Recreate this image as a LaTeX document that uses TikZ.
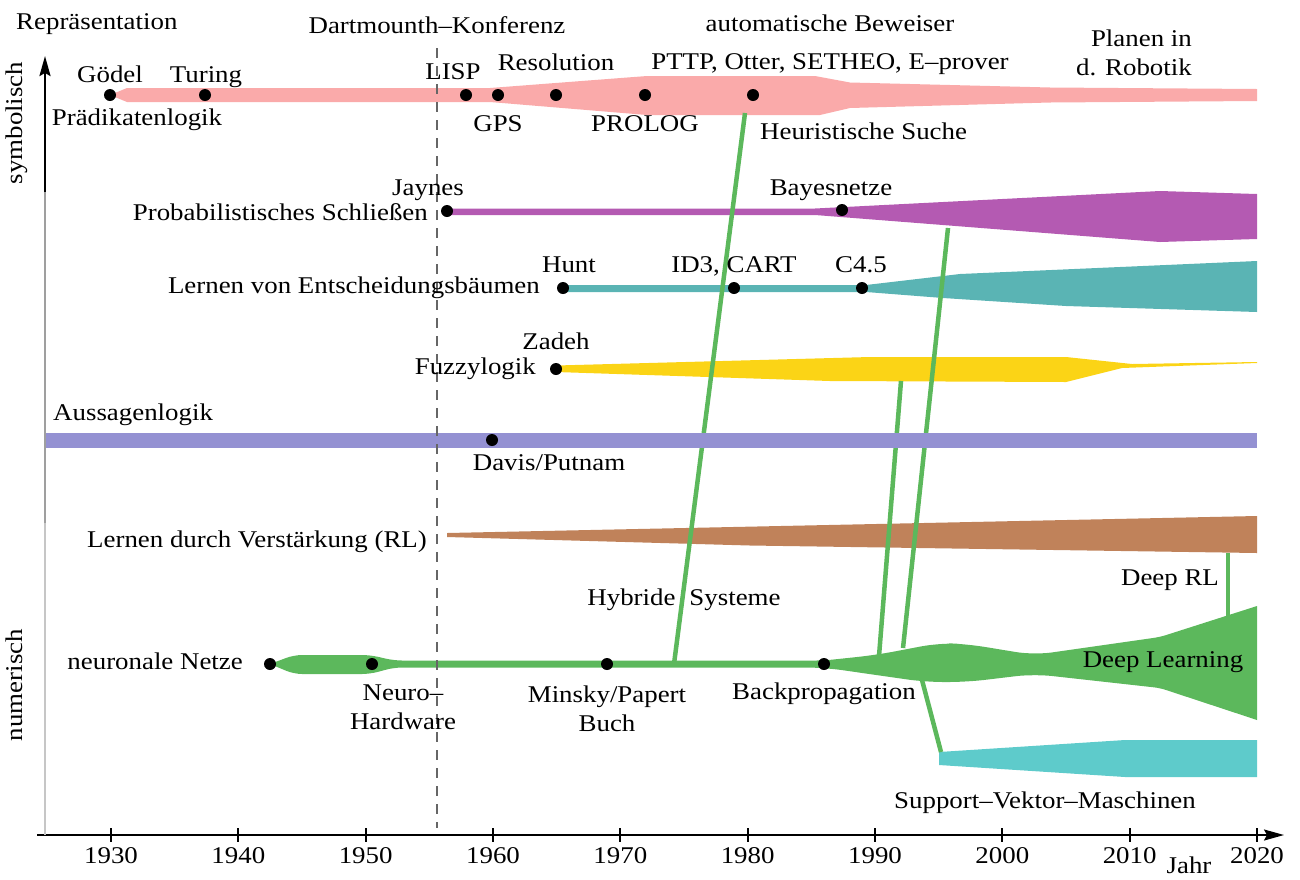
\documentclass[tikz,border=0pt]{standalone}
\usepackage{fontspec}
\setmainfont{Liberation Serif}[FakeStretch=1.12]
\usetikzlibrary{arrows.meta}
\definecolor{cpink}{RGB}{250,170,170}
\definecolor{cpurple}{RGB}{180,90,178}
\definecolor{cteal}{RGB}{90,180,180}
\definecolor{cyellow}{RGB}{251,212,22}
\definecolor{clav}{RGB}{148,145,210}
\definecolor{cbrown}{RGB}{192,130,90}
\definecolor{cgreen}{RGB}{92,184,92}
\definecolor{ccyan}{RGB}{94,203,203}
\newcommand\fsz{\fontsize{24}{29}\selectfont}
\begin{document}
\begin{tikzpicture}[x=1pt,y=-1pt,
  lbl/.style={inner sep=0pt, text height=0.7em, text depth=0.22em, font=\fsz, yshift=-3pt},
  yrlbl/.style={inner sep=0pt, text height=0.7em, text depth=0.22em, font=\fsz, yshift=-1pt},
  ml/.style={inner sep=0pt, font=\fsz, align=center, yshift=-1pt},
  dot/.style={circle, fill=black, inner sep=0pt, minimum size=12pt},
  link/.style={line width=4.5pt, draw=cgreen},
  axis/.style={line width=1.8pt},
  tip/.style={-{Stealth[length=20pt,width=11pt,inset=3pt]}}
]
\useasboundingbox (0,0) rectangle (1300,879);

% ---------- bands ----------
\fill[cpink] (110,95) -- (127,88) -- (490,88) -- (647,76) -- (815,76) -- (850,82.5) -- (1050,87.5) -- (1257,89)
  -- (1257,101) -- (1050,102.5) -- (850,108) -- (820,115) -- (647,115) -- (490,102) -- (127,102) -- cycle;
\fill[cpurple] (447,208.5) -- (815,208.5) -- (1160,191) -- (1257,194) -- (1257,239) -- (1160,242) -- (815,215) -- (447,215) -- cycle;
\fill[cteal] (562,285) -- (866,285) -- (960,274) -- (1257,261) -- (1257,312) -- (1066,306) -- (943,298) -- (866,292) -- (562,292) -- cycle;
\fill[cyellow] (556,365.5) -- (870,357) -- (1066,357) -- (1132,364) -- (1257,362) -- (1257,363) -- (1122,368) -- (1066,382) -- (830,381) -- (556,372) -- cycle;
\fill[cbrown] (447,533) -- (1257,516) -- (1257,553) -- (750,545.5) -- (447,537) -- cycle;
\fill[cgreen] (270,664) [rounded corners=8pt] -- (294,655) -- (370,655) -- (394,660.5) -- (824,660.5)
  [rounded corners=18pt] -- (876,655) -- (939,643) -- (967,644) -- (1034,655)
  [rounded corners=6pt] -- (1160,637) [sharp corners] -- (1257,606)
  -- (1257,720) [rounded corners=6pt] -- (1160,688) [rounded corners=18pt] -- (1034,674) -- (967,682) -- (925,682) -- (824,667.5)
  [rounded corners=8pt] -- (394,667.5) -- (370,674) -- (294,674) [sharp corners] -- cycle;
\fill[ccyan] (939,752) -- (1125,740) -- (1257,740) -- (1257,777) -- (1125,777) -- (939,765) -- cycle;

% ---------- green links ----------
\coordinate (hybA) at (674,664);  \coordinate (hybB) at (745,113);
\coordinate (l1A) at (879,656);   \coordinate (l1B) at (901,381);
\coordinate (l2A) at (903,648);   \coordinate (l2B) at (948,228);
\coordinate (svA) at (922,680);   \coordinate (svB) at (941,752);
\coordinate (drA) at (1228,553);  \coordinate (drB) at (1228,620);
\draw[link] (hybA) -- (hybB);
\draw[link] (l1A) -- (l1B);
\draw[link] (l2A) -- (l2B);
\draw[link] (svA) -- (svB);
\draw[link] (drA) -- (drB);

% propositional logic band (over the links)
\fill[clav] (45,432.5) rectangle (1257,447.5);

% ---------- axes ----------
\coordinate (xs) at (37,835); \coordinate (xe) at (1284,835);
\coordinate (ys) at (45,835); \coordinate (ym1) at (45,523); \coordinate (ym2) at (45,192); \coordinate (ye) at (45,56);
\draw[axis, tip] (xs) -- (xe);
\draw[line width=2.4pt, gray!45] (ys) -- (ym1);
\draw[line width=2.4pt, gray!75] (ym1) -- (ym2);
\draw[line width=2.4pt, tip] (ym2) -- (ye);
\foreach \yr in {1930,1940,...,2020}{
  \pgfmathsetmacro\xx{111+(\yr-1930)*12.7333}
  \draw[axis] (\xx,828) -- (\xx,842);
  \node[yrlbl] (y\yr) at (\xx,860) {\yr};
}
\node[lbl] (jahr) at (1189,868) {Jahr};

% dashed Dartmouth line
\coordinate (dA) at (437,48); \coordinate (dB) at (437,828);
\draw[gray!80!black, line width=1.5pt, dash pattern=on 10pt off 8pt] (dA) -- (dB);

% ---------- dots ----------
\node[dot] (goedel) at (110,95) {};
\node[dot] (turing) at (205,95) {};
\node[dot] (lisp) at (466,95) {};
\node[dot] (gps) at (498,95) {};
\node[dot] (resol) at (556,95) {};
\node[dot] (prolog) at (645,95) {};
\node[dot] (heur) at (753,95) {};
\node[dot] (jaynes) at (447,211) {};
\node[dot] (bayes) at (842,210) {};
\node[dot] (hunt) at (563,288) {};
\node[dot] (id3) at (734,288) {};
\node[dot] (c45) at (862,288) {};
\node[dot] (zadeh) at (556,369) {};
\node[dot] (davis) at (492,440) {};
\node[dot] (nn) at (270,664) {};
\node[dot] (neuro) at (372,664) {};
\node[dot] (minsky) at (607,664) {};
\node[dot] (backp) at (824,664) {};

% ---------- labels ----------
\node[lbl, anchor=west] (repr) at (16,24) {Repräsentation};
\node[lbl] (dart) at (437,28) {Dartmounth–Konferenz};
\node[lbl] (autob) at (830,26) {automatische Beweiser};
\node[ml, align=right, anchor=east] (plan) at (1192,52) {Planen in\\d. Robotik};
\node[lbl, rotate=90, yshift=0pt] (sym) at (20,120) {symbolisch};
\node[lbl, rotate=90, yshift=0pt] (num) at (20,682) {numerisch};

\node[lbl] (tgoedel) at (110,77) {Gödel};
\node[lbl] (tturing) at (206,77) {Turing};
\node[lbl] (tpraed) at (137,120) {Prädikatenlogik};
\node[lbl] (tlisp) at (453,74) {LISP};
\node[lbl] (tgps) at (498,126) {GPS};
\node[lbl] (tresol) at (556,65) {Resolution};
\node[lbl] (tprolog) at (645,126) {PROLOG};
\node[lbl] (tpttp) at (830,64) {PTTP, Otter, SETHEO, E–prover};
\node[lbl, anchor=west] (theur) at (760,134) {Heuristische Suche};

\node[lbl] (tjaynes) at (428,190) {Jaynes};
\node[lbl, anchor=east] (tprob) at (428,215) {Probabilistisches Schließen};
\node[lbl] (tbayes) at (831,190) {Bayesnetze};

\node[lbl] (thunt) at (569,267) {Hunt};
\node[lbl] (tid3) at (734,267) {ID3, CART};
\node[lbl] (tc45) at (861,267) {C4.5};
\node[lbl, anchor=east] (tent) at (540,288) {Lernen von Entscheidungsbäumen};

\node[lbl] (tzadeh) at (556,344) {Zadeh};
\node[lbl, anchor=east] (tfuzzy) at (536,369) {Fuzzylogik};

\node[lbl, anchor=west] (taussag) at (53,415) {Aussagenlogik};
\node[lbl] (tdavis) at (549,465) {Davis/Putnam};

\node[lbl, anchor=east] (trl) at (427,542) {Lernen durch Verstärkung (RL)};
\node[lbl] (thyb) at (684,600) {Hybride\hspace{14pt}Systeme};
\node[lbl] (tdeeprl) at (1170,580) {Deep RL};
\node[lbl] (tdeepl) at (1163,662) {Deep Learning};

\node[lbl, anchor=east] (tnn) at (243,664) {neuronale Netze};
\node[ml] (tneuro) at (403,706) {Neuro–\\Hardware};
\node[ml] (tminsky) at (607,708) {Minsky/Papert\\Buch};
\node[lbl] (tbackp) at (824,694) {Backpropagation};
\node[lbl] (tsvm) at (1045,803) {Support–Vektor–Maschinen};
\end{tikzpicture}
\end{document}
